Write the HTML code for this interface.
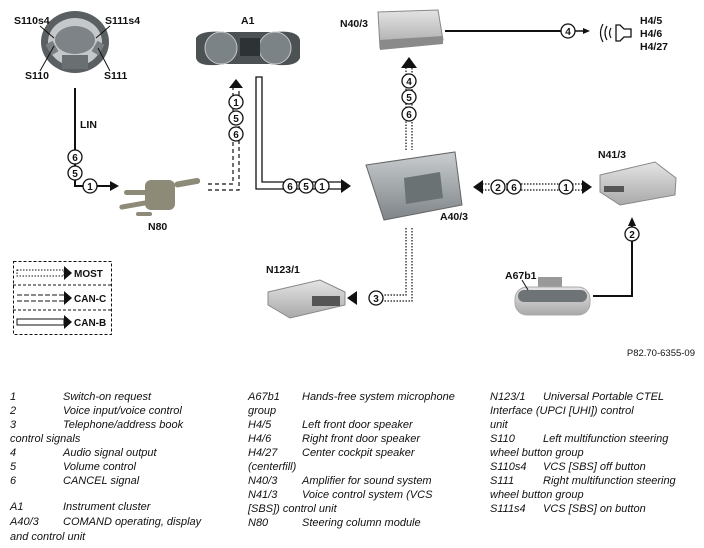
<!DOCTYPE html>
<html><head><meta charset="utf-8"><style>
html,body{margin:0;padding:0;background:#fff;width:704px;height:548px;overflow:hidden}
svg{display:block}
text{font-family:"Liberation Sans",Arial,sans-serif}
.lb{font-size:10.5px;font-weight:bold;fill:#111}
.c{fill:#fff;stroke:#111;stroke-width:1.3}
.cn{font-size:10px;font-weight:bold;text-anchor:middle;fill:#111}
.lg{font-size:11px;font-style:italic;fill:#111}
</style></head><body>
<svg width="704" height="548" viewBox="0 0 704 548" xmlns="http://www.w3.org/2000/svg">
<defs>
<linearGradient id="g1" x1="0" y1="0" x2="0" y2="1"><stop offset="0" stop-color="#c9cdcf"/><stop offset="1" stop-color="#7e8488"/></linearGradient>
<linearGradient id="g2" x1="0" y1="0" x2="0" y2="1"><stop offset="0" stop-color="#e4e4e4"/><stop offset="1" stop-color="#a9a9a9"/></linearGradient>
</defs>

<!-- steering wheel -->
<ellipse cx="75" cy="42" rx="34" ry="31" fill="#5a5f62"/>
<ellipse cx="75" cy="42" rx="27" ry="24" fill="#c4c8ca"/>
<ellipse cx="75" cy="40" rx="20" ry="14" fill="#7d8386"/>
<rect x="62" y="55" width="26" height="14" fill="#6a6f72"/>
<rect x="48" y="42" width="8" height="12" fill="#7a7f82" transform="rotate(-30 52 48)"/>
<rect x="94" y="42" width="8" height="12" fill="#7a7f82" transform="rotate(30 98 48)"/>
<text class="lb" x="14" y="24">S110s4</text>
<text class="lb" x="105" y="24">S111s4</text>
<text class="lb" x="25" y="79">S110</text>
<text class="lb" x="104" y="79">S111</text>
<line x1="40" y1="26" x2="54" y2="38" stroke="#111"/>
<line x1="110" y1="26" x2="96" y2="38" stroke="#111"/>
<line x1="40" y1="71" x2="54" y2="46" stroke="#111"/>
<line x1="110" y1="71" x2="98" y2="48" stroke="#111"/>

<!-- LIN -->
<text class="lb" x="80" y="128">LIN</text>
<polyline points="75,88 75,186 112,186" fill="none" stroke="#111" stroke-width="2"/>
<polygon points="110,181 119,186 110,191" fill="#111"/>
<circle class="c" cx="75" cy="157" r="7"/><text class="cn" x="75" y="161">6</text>
<circle class="c" cx="75" cy="173" r="7"/><text class="cn" x="75" y="177">5</text>
<circle class="c" cx="90" cy="186" r="7"/><text class="cn" x="90" y="190">1</text>

<!-- N80 -->
<rect x="145" y="180" width="30" height="30" rx="6" fill="#8d8a78"/>
<rect x="174" y="182" width="26" height="6" rx="3" fill="#8d8a78" transform="rotate(-10 174 182)"/>
<rect x="124" y="190" width="24" height="5" rx="2.5" fill="#8d8a78"/>
<rect x="119" y="205" width="28" height="5" rx="2.5" fill="#8d8a78" transform="rotate(-10 119 205)"/>
<rect x="136" y="212" width="16" height="4" rx="2" fill="#8d8a78"/>
<text class="lb" x="148" y="230">N80</text>

<!-- A1 -->
<path d="M196,38 Q200,30 225,32 L275,32 Q298,30 300,40 L300,58 Q296,68 270,64 L225,64 Q198,68 196,58 Z" fill="#4c5254"/>
<circle cx="221" cy="48" r="16" fill="#7b8386" stroke="#c8c8c8"/>
<circle cx="275" cy="48" r="16" fill="#7b8386" stroke="#c8c8c8"/>
<rect x="240" y="38" width="20" height="18" fill="#2d3234"/>
<text class="lb" x="241" y="24">A1</text>

<!-- CAN-C to A1 -->
<g stroke="#111" stroke-width="1.2" stroke-dasharray="4,3" fill="none">
<polyline points="208,184 233,184 233,88"/>
<polyline points="208,190 239,190 239,88"/>
</g>
<polygon points="229,88 236,79 243,88" fill="#111"/>
<circle class="c" cx="236" cy="102" r="7"/><text class="cn" x="236" y="106">1</text>
<circle class="c" cx="236" cy="118" r="7"/><text class="cn" x="236" y="122">5</text>
<circle class="c" cx="236" cy="134" r="7"/><text class="cn" x="236" y="138">6</text>

<!-- CAN-B -->
<path d="M256,77 L262,77 L262,182 L342,182 L342,189 L256,189 Z" fill="#fff" stroke="#111" stroke-width="1.3"/>
<polygon points="341,179 351,186 341,193" fill="#111"/>
<circle class="c" cx="290" cy="186" r="7"/><text class="cn" x="290" y="190">6</text>
<circle class="c" cx="306" cy="186" r="7"/><text class="cn" x="306" y="190">5</text>
<circle class="c" cx="322" cy="186" r="7"/><text class="cn" x="322" y="190">1</text>

<!-- N40/3 -->
<polygon points="378,12 438,10 443,40 380,48" fill="url(#g2)" stroke="#888"/>
<polygon points="380,40 443,36 443,44 380,50" fill="#8a8a8a"/>
<text class="lb" x="340" y="27">N40/3</text>
<line x1="445" y1="31" x2="561" y2="31" stroke="#111" stroke-width="2"/>
<line x1="575" y1="31" x2="584" y2="31" stroke="#111" stroke-width="1.5"/>
<polygon points="583,28 590,31 583,34" fill="#111"/>
<circle class="c" cx="568" cy="31" r="7"/><text class="cn" x="568" y="35">4</text>
<!-- speaker -->
<path d="M603,24 Q598,33 603,42 M607,26 Q603,33 607,40 M611,28 Q608,33 611,38" fill="none" stroke="#111" stroke-width="1.2"/>
<polygon points="616,25 620,25 624,29 631,29 631,37 624,37 620,41 616,41" fill="#fff" stroke="#111" stroke-width="1.3"/>
<text class="lb" x="640" y="24">H4/5</text>
<text class="lb" x="640" y="37">H4/6</text>
<text class="lb" x="640" y="50">H4/27</text>

<!-- MOST up to N40/3 -->
<g stroke="#111" stroke-width="1.2" stroke-dasharray="1.5,1.5" fill="none">
<polyline points="406,150 406,64 412,64 412,150"/>
</g>
<polygon points="401,68 409,57 417,68" fill="#111"/>
<circle class="c" cx="409" cy="81" r="7"/><text class="cn" x="409" y="85">4</text>
<circle class="c" cx="409" cy="97" r="7"/><text class="cn" x="409" y="101">5</text>
<circle class="c" cx="409" cy="114" r="7"/><text class="cn" x="409" y="118">6</text>

<!-- A40/3 -->
<polygon points="366,165 455,152 462,205 384,220" fill="url(#g1)" stroke="#666"/>
<polygon points="404,178 440,172 443,198 406,204" fill="#6b7274"/>
<text class="lb" x="440" y="220">A40/3</text>

<!-- MOST A40/3 <-> N41/3 -->
<g stroke="#111" stroke-width="1.2" stroke-dasharray="1.5,1.5" fill="none">
<line x1="482" y1="184" x2="585" y2="184"/><line x1="482" y1="190" x2="585" y2="190"/>
</g>
<polygon points="483,180 473,187 483,194" fill="#111"/>
<polygon points="582,180 592,187 582,194" fill="#111"/>
<circle class="c" cx="498" cy="187" r="7"/><text class="cn" x="498" y="191">2</text>
<circle class="c" cx="514" cy="187" r="7"/><text class="cn" x="514" y="191">6</text>
<circle class="c" cx="566" cy="187" r="7"/><text class="cn" x="566" y="191">1</text>

<!-- N41/3 -->
<polygon points="600,175 655,162 676,178 675,195 620,205 600,192" fill="url(#g2)" stroke="#888"/>
<rect x="604" y="186" width="20" height="6" fill="#555"/>
<text class="lb" x="598" y="158">N41/3</text>

<!-- A67b1 line -->
<polyline points="593,296 632,296 632,226" fill="none" stroke="#111" stroke-width="2"/>
<polygon points="628,226 632,217 636,226" fill="#111"/>
<circle class="c" cx="632" cy="234" r="7"/><text class="cn" x="632" y="238">2</text>

<!-- A67b1 -->
<rect x="538" y="277" width="24" height="12" fill="#999"/>
<rect x="515" y="287" width="75" height="28" rx="12" fill="url(#g2)" stroke="#aaa"/>
<rect x="518" y="290" width="69" height="12" rx="6" fill="#6e7376"/>
<text class="lb" x="505" y="279">A67b1</text>
<line x1="522" y1="280" x2="528" y2="290" stroke="#111"/>

<!-- MOST down to N123/1 -->
<g stroke="#111" stroke-width="1.2" stroke-dasharray="1.5,1.5" fill="none">
<polyline points="406,228 406,295 384,295"/>
<polyline points="412,228 412,301 384,301"/>
</g>
<polygon points="357,291 347,298 357,305" fill="#111"/>
<circle class="c" cx="376" cy="298" r="7"/><text class="cn" x="376" y="302">3</text>

<!-- N123/1 -->
<polygon points="268,292 320,280 345,292 345,305 290,318 268,305" fill="url(#g2)" stroke="#888"/>
<rect x="312" y="296" width="28" height="10" fill="#555"/>
<text class="lb" x="266" y="273">N123/1</text>

<!-- legend -->
<rect x="13.5" y="261.5" width="98" height="73" fill="none" stroke="#111" stroke-dasharray="3,2"/>
<line x1="13" y1="285" x2="111" y2="285" stroke="#111" stroke-dasharray="3,2"/>
<line x1="13" y1="310" x2="111" y2="310" stroke="#111" stroke-dasharray="3,2"/>
<g stroke="#111" stroke-width="1" stroke-dasharray="1.5,1.5" fill="none">
<rect x="17" y="270" width="47" height="6"/></g>
<polygon points="64,266 72,273 64,280" fill="#111"/>
<text class="lb" x="74" y="277" style="font-size:10px">MOST</text>
<g stroke="#111" stroke-width="1" stroke-dasharray="5,2" fill="none">
<line x1="17" y1="295" x2="64" y2="295"/><line x1="17" y1="301" x2="64" y2="301"/></g>
<polygon points="64,291 72,298 64,305" fill="#111"/>
<text class="lb" x="74" y="302" style="font-size:10px">CAN-C</text>
<rect x="17" y="319" width="47" height="6" fill="#fff" stroke="#111"/>
<polygon points="64,315 72,322 64,329" fill="#111"/>
<text class="lb" x="74" y="326" style="font-size:10px">CAN-B</text>

<text x="695" y="356" text-anchor="end" style="font-size:9.5px;fill:#111">P82.70-6355-09</text>

<!-- text legend -->
<g class="lg">
<text x="10" y="400">1</text><text x="63" y="400">Switch-on request</text>
<text x="10" y="414">2</text><text x="63" y="414">Voice input/voice control</text>
<text x="10" y="428">3</text><text x="63" y="428">Telephone/address book</text>
<text x="10" y="442">control signals</text>
<text x="10" y="456">4</text><text x="63" y="456">Audio signal output</text>
<text x="10" y="470">5</text><text x="63" y="470">Volume control</text>
<text x="10" y="484">6</text><text x="63" y="484">CANCEL signal</text>
<text x="10" y="510">A1</text><text x="63" y="510">Instrument cluster</text>
<text x="10" y="525">A40/3</text><text x="63" y="525">COMAND operating, display</text>
<text x="10" y="540">and control unit</text>

<text x="248" y="400">A67b1</text><text x="302" y="400">Hands-free system microphone</text>
<text x="248" y="414">group</text>
<text x="248" y="428">H4/5</text><text x="302" y="428">Left front door speaker</text>
<text x="248" y="442">H4/6</text><text x="302" y="442">Right front door speaker</text>
<text x="248" y="456">H4/27</text><text x="302" y="456">Center cockpit speaker</text>
<text x="248" y="470">(centerfill)</text>
<text x="248" y="484">N40/3</text><text x="302" y="484">Amplifier for sound system</text>
<text x="248" y="498">N41/3</text><text x="302" y="498">Voice control system (VCS</text>
<text x="248" y="512">[SBS]) control unit</text>
<text x="248" y="526">N80</text><text x="302" y="526">Steering column module</text>

<text x="490" y="400">N123/1</text><text x="543" y="400">Universal Portable CTEL</text>
<text x="490" y="414">Interface (UPCI [UHI]) control</text>
<text x="490" y="428">unit</text>
<text x="490" y="442">S110</text><text x="543" y="442">Left multifunction steering</text>
<text x="490" y="456">wheel button group</text>
<text x="490" y="470">S110s4</text><text x="543" y="470">VCS [SBS] off button</text>
<text x="490" y="484">S111</text><text x="543" y="484">Right multifunction steering</text>
<text x="490" y="498">wheel button group</text>
<text x="490" y="512">S111s4</text><text x="543" y="512">VCS [SBS] on button</text>
</g>
</svg>
</body></html>
